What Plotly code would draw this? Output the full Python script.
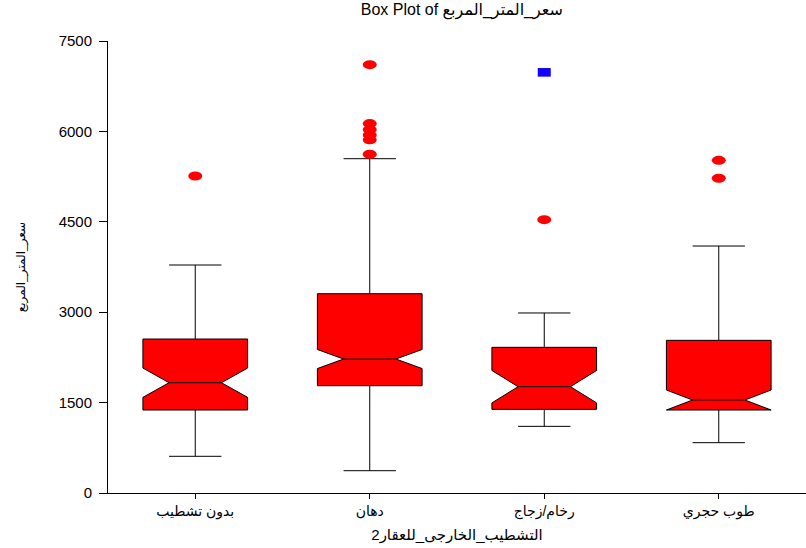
import plotly.graph_objects as go

# Finishing type categories (x axis) and price-per-square-metre statistics
categories = ["بدون تشطيب", "دهان", "رخام/زجاج", "طوب حجري"]
q1 = [1377, 1780, 1388, 1377]
median = [1830, 2223, 1764, 1543]
q3 = [2555, 3307, 2417, 2533]
lower_fence = [609, 370, 1106, 835]
upper_fence = [3783, 5547, 2987, 4098]
notch_span = [243, 158, 269, 166]

# Outliers (category index, value)
outlier_cat = [0, 1, 1, 1, 1, 1, 1, 2, 3, 3]
outlier_val = [5260, 7107, 6130, 6030, 5940, 5860, 5620, 4535, 5520, 5222]

# Extreme outliers
extreme_cat = [2]
extreme_val = [6980]

y_ticks = [0, 1500, 3000, 4500, 6000, 7500]

FONT = "Liberation Sans, Arial, DejaVu Sans, sans-serif"
RED = "#ff0000"
BLUE = "#1400ff"

positions = list(range(len(categories)))

fig = go.Figure()
fig.add_trace(go.Box(
    x=positions,
    q1=q1,
    median=median,
    q3=q3,
    lowerfence=lower_fence,
    upperfence=upper_fence,
    notched=True,
    notchspan=notch_span,
    notchwidth=0.25,
    width=0.6,
    whiskerwidth=0.5,
    fillcolor=RED,
    line=dict(color="black", width=1),
    boxpoints=False,
    showlegend=False,
))

shapes = []
for c, v in zip(outlier_cat, outlier_val):
    shapes.append(dict(
        type="circle", xref="x", yref="y",
        xsizemode="pixel", ysizemode="pixel",
        xanchor=c, yanchor=v, x0=-7, x1=7, y0=-4.5, y1=4.5,
        fillcolor=RED, line=dict(width=0), layer="above",
    ))
for c, v in zip(extreme_cat, extreme_val):
    shapes.append(dict(
        type="rect", xref="x", yref="y",
        xsizemode="pixel", ysizemode="pixel",
        xanchor=c, yanchor=v, x0=-6.5, x1=6.5, y0=-4.3, y1=4.3,
        fillcolor=BLUE, line=dict(width=0), layer="above",
    ))

fig.update_layout(
    width=806,
    height=548,
    margin=dict(l=108, r=0, t=41, b=55),
    paper_bgcolor="white",
    plot_bgcolor="white",
    font=dict(family=FONT, color="black", size=13),
    shapes=shapes,
    title=dict(
        text="Box Plot of سعر_المتر_المربع",
        x=0.573, xanchor="center",
        y=0.982, yanchor="middle", yref="container",
        font=dict(size=16, family=FONT, color="black"),
    ),
    xaxis=dict(
        range=[-0.5, 3.5],
        tickmode="array",
        tickvals=positions,
        ticktext=categories,
        ticks="outside",
        ticklen=5,
        tickcolor="black",
        showline=True,
        linecolor="black",
        linewidth=1,
        showgrid=False,
        zeroline=False,
        tickfont=dict(size=14),
        title=dict(text="التشطيب_الخارجى_للعقار2", font=dict(size=15), standoff=10),
    ),
    yaxis=dict(
        range=[0, 7500],
        tickmode="array",
        tickvals=y_ticks,
        ticks="outside",
        ticklen=8,
        tickcolor="black",
        showline=True,
        linecolor="black",
        linewidth=1,
        showgrid=False,
        zeroline=False,
        tickfont=dict(size=15),
        ticklabelstandoff=4,
        title=dict(text="سعر_المتر_المربع", font=dict(size=12), standoff=30),
    ),
)

fig.write_html("out.html")
